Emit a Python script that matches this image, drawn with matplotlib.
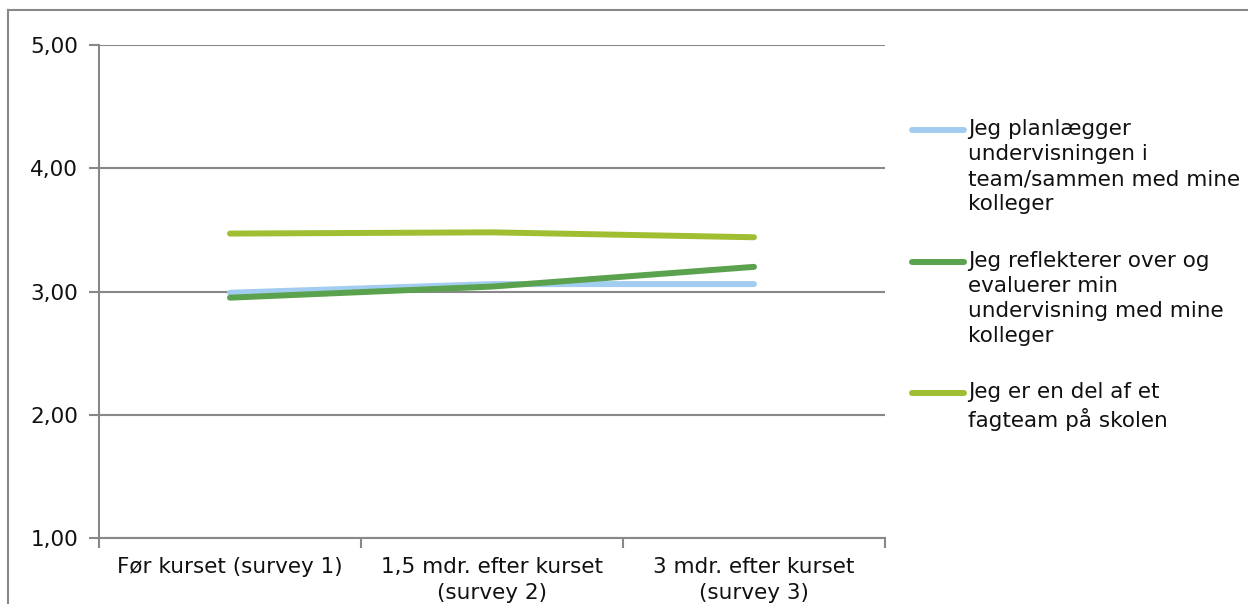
import matplotlib
matplotlib.use("Agg")
import matplotlib.pyplot as plt
from matplotlib.lines import Line2D
from matplotlib.ticker import FuncFormatter

categories = ["Før kurset (survey 1)", "1,5 mdr. efter kurset\n(survey 2)", "3 mdr. efter kurset\n(survey 3)"]
planlaegger = [2.99, 3.06, 3.06]
reflekterer = [2.95, 3.04, 3.20]
fagteam = [3.47, 3.48, 3.44]
labels = [
	"Jeg planlægger\nundervisningen i\nteam/sammen med mine\nkolleger",
	"Jeg reflekterer over og\nevaluerer min\nundervisning med mine\nkolleger",
	"Jeg er en del af et\nfagteam på skolen",
]
colors = ["#A3CDF0", "#5AA24E", "#A0BE32"]

W, H = 1248, 604
fs = 15.5
fig = plt.figure(figsize=(W / 100, H / 100), dpi=100)
ax = fig.add_axes([99 / W, 1 - 538 / H, (885 - 99) / W, (538 - 45) / H])

x = range(len(categories))
for vals, c in zip([planlaegger, reflekterer, fagteam], colors):
	ax.plot(x, vals, color=c, lw=4.3, solid_capstyle="round", zorder=3)

ax.set_xlim(-0.5, 2.5)
ax.set_ylim(1, 5)
ax.set_yticks([1, 2, 3, 4, 5])
ax.yaxis.set_major_formatter(FuncFormatter(lambda v, p: ("%.2f" % v).replace(".", ",")))
ax.set_xticks([-0.5, 0.5, 1.5, 2.5])
ax.set_xticklabels([])
ax.set_xticks(list(x), minor=True)
ax.set_xticklabels(categories, minor=True, fontsize=fs, color="#111111", linespacing=1.32)
ax.tick_params(axis="x", which="minor", length=0, pad=14)
ax.tick_params(axis="x", which="major", length=7, color="#888888", width=1.5)
ax.tick_params(axis="y", length=7, color="#888888", width=1.5, labelsize=fs, labelcolor="#111111", pad=8)
ax.grid(axis="y", color="#888888", lw=1.5)
for s in ["top", "right"]:
	ax.spines[s].set_visible(False)
for s in ["left", "bottom"]:
	ax.spines[s].set_color("#888888")
	ax.spines[s].set_linewidth(1.5)

# outer chart border (top and left only visible)
fig.add_artist(Line2D([8 / W, 8 / W], [0, 1 - 10 / H], color="#888888", lw=1.5, transform=fig.transFigure))
fig.add_artist(Line2D([8 / W, 1], [1 - 10 / H, 1 - 10 / H], color="#888888", lw=1.5, transform=fig.transFigure))

# legend, handles aligned to first line of text like Excel
tops = [119, 251, 382]
for lab, c, t in zip(labels, colors, tops):
	yl = 1 - (t + 11) / H
	fig.add_artist(Line2D([912 / W, 964 / W], [yl, yl], color=c, lw=4.3, solid_capstyle="round", transform=fig.transFigure))
	fig.text(968 / W, 1 - t / H, lab, fontsize=fs, va="top", ha="left", color="#111111", linespacing=1.32)

fig.savefig("out.png", dpi=100, facecolor="white")
